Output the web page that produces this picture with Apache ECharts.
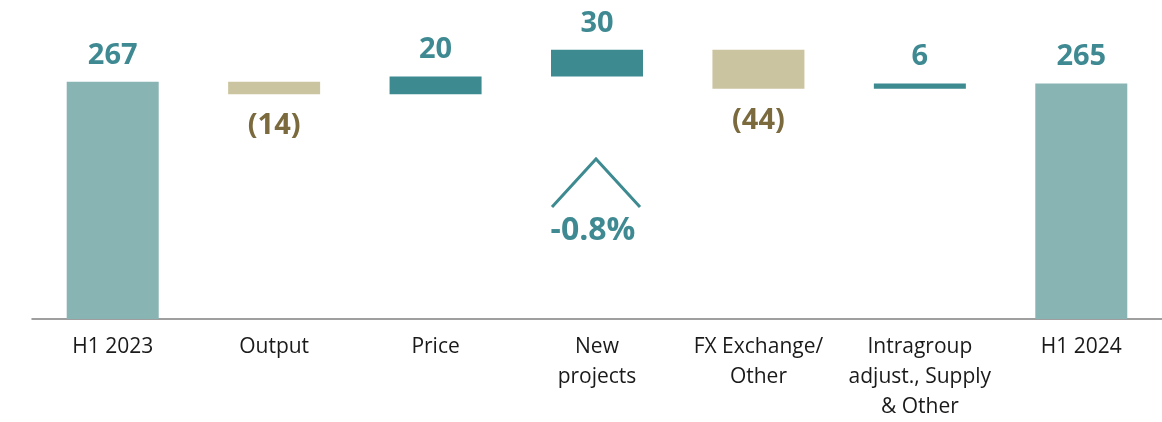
<!DOCTYPE html>
<html>
<head>
<meta charset="utf-8">
<script src="https://cdn.jsdelivr.net/npm/echarts@6/dist/echarts.min.js"></script>
<style>
  html, body { margin: 0; padding: 0; background: #ffffff; }
  #chart { width: 1162px; height: 422px; }
</style>
</head>
<body>
<div id="chart"></div>
<script>
// bridge H1 2023 -> H1 2024
var categories = ['H1 2023', 'Output', 'Price', 'New\nprojects', 'FX Exchange/\nOther', 'Intragroup\nadjust., Supply\n& Other', 'H1 2024'];
var values = [267, -14, 20, 30, -44, 6, 265];
var isTotal = [true, false, false, false, false, false, true];
var changeLabel = '-0.8%';

var totalColor = '#89b4b4';
var upColor = '#3d8a91';
var downColor = '#cbc4a0';
var upText = '#3f8a92';
var downText = '#7a6a3e';

// invisible base + visible part
var baseData = [];
var barData = [];
var cum = 0;
for (var i = 0; i < values.length; i++) {
  var v = values[i];
  if (isTotal[i]) {
    cum = v;
    baseData.push(0);
    barData.push({ value: v, itemStyle: { color: totalColor }, label: { position: 'top', color: upText } });
  } else if (v >= 0) {
    baseData.push(cum);
    cum += v;
    barData.push({ value: v, itemStyle: { color: upColor }, label: { position: 'top', color: upText } });
  } else {
    cum += v;
    baseData.push(cum);
    barData.push({ value: -v, itemStyle: { color: downColor }, label: { position: 'bottom', color: downText, distance: 17 } });
  }
}

var chart = echarts.init(document.getElementById('chart'));

chart.setOption({
  backgroundColor: '#ffffff',
  animation: false,
  grid: { left: 32, right: 0, top: 8, bottom: 101 },
  xAxis: {
    type: 'category',
    data: categories,
    axisTick: { show: false },
    axisLine: { lineStyle: { color: '#808080', width: 1.5 } },
    axisLabel: {
      interval: 0,
      margin: 13,
      color: '#1a1a1a',
      fontFamily: 'Open Sans',
      fontSize: 21,
      lineHeight: 30
    }
  },
  yAxis: {
    type: 'value',
    min: 0,
    max: 350,
    show: false,
    splitLine: { show: false }
  },
  series: [
    {
      type: 'bar',
      stack: 'w',
      data: baseData,
      itemStyle: { color: 'transparent' },
      silent: true
    },
    {
      type: 'bar',
      stack: 'w',
      barWidth: 92,
      data: barData,
      label: {
        show: true,
        distance: 12,
        fontFamily: 'Open Sans',
        fontWeight: 'bold',
        fontSize: 29,
        formatter: function (p) {
          var raw = values[p.dataIndex];
          return raw < 0 ? '(' + (-raw) + ')' : String(raw);
        }
      }
    }
  ]
});

// caret and % change under "New projects"
var cx = chart.convertToPixel({ xAxisIndex: 0 }, 3);
chart.setOption({
  graphic: [
    {
      type: 'polyline',
      shape: { points: [[cx - 45, 207], [cx - 1, 159], [cx + 43, 207]] },
      style: { stroke: upColor, lineWidth: 3, fill: null }
    },
    {
      type: 'text',
      x: cx - 4,
      y: 231,
      style: {
        text: changeLabel,
        fill: upText,
        font: 'bold 32px "Open Sans"',
        align: 'center',
        verticalAlign: 'middle'
      }
    }
  ]
});
</script>
</body>
</html>
